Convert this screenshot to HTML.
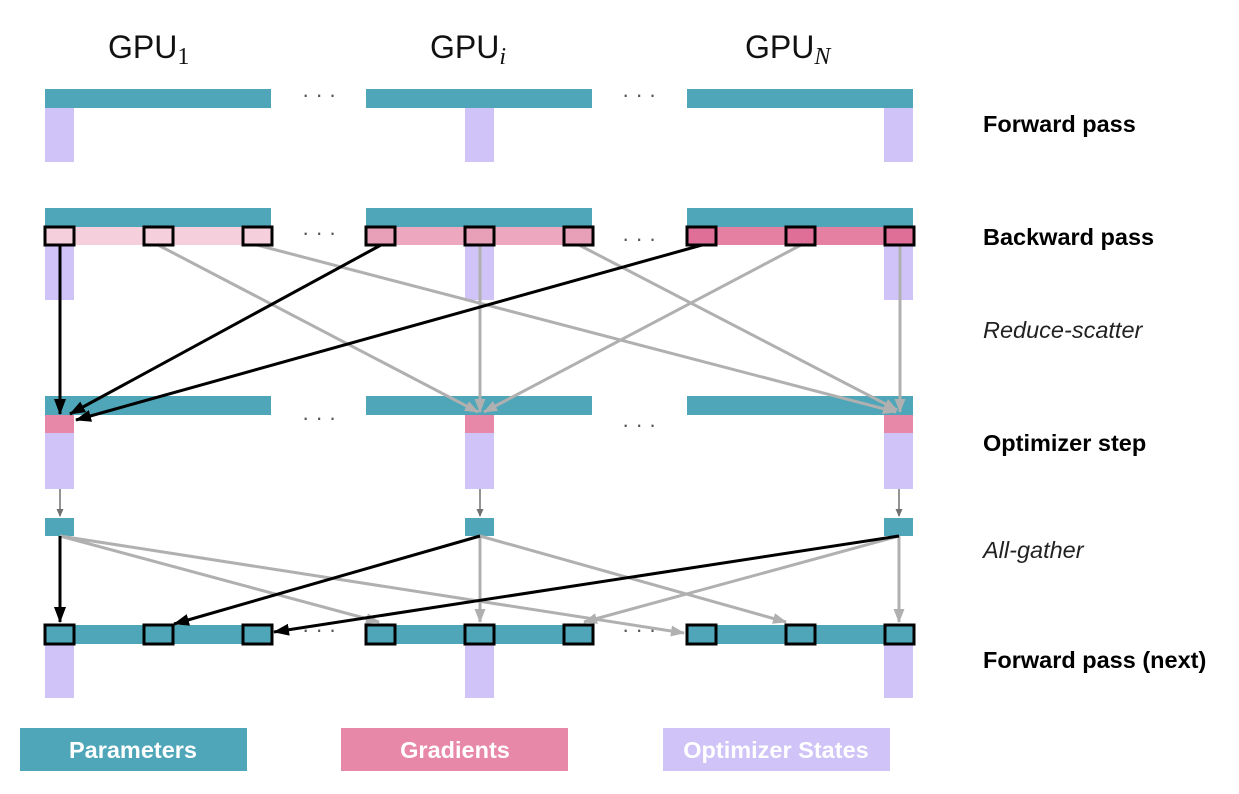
<!DOCTYPE html>
<html><head><meta charset="utf-8"><style>
body{margin:0;background:#fff;width:1239px;height:789px;overflow:hidden}
</style></head><body>
<svg width="1239" height="789" xmlns="http://www.w3.org/2000/svg" font-family="Liberation Sans, sans-serif">
<defs>
<marker id="ab" markerWidth="16" markerHeight="12" refX="15" refY="6" orient="auto" markerUnits="userSpaceOnUse" viewBox="0 0 16 12"><path d="M0,0 L16,6 L0,12z" fill="#000"/></marker>
<marker id="ag" markerWidth="14" markerHeight="11" refX="13" refY="5.5" orient="auto" markerUnits="userSpaceOnUse" viewBox="0 0 14 11"><path d="M0,0 L14,5.5 L0,11z" fill="#b0b0b0"/></marker>
<marker id="ad" markerWidth="8" markerHeight="7" refX="7" refY="3.5" orient="auto" markerUnits="userSpaceOnUse" viewBox="0 0 8 7"><path d="M0,0 L8,3.5 L0,7z" fill="#707070"/></marker>
</defs>
<g font-size="32" fill="#111" font-weight="300">
<text x="108" y="58">GPU<tspan font-family="Liberation Serif" font-size="24" dy="6">1</tspan></text>
<text x="430" y="58">GPU<tspan font-family="Liberation Serif" font-style="italic" font-size="24" dy="6">i</tspan></text>
<text x="745" y="58">GPU<tspan font-family="Liberation Serif" font-style="italic" font-size="24" dy="6">N</tspan></text>
</g>
<g fill="#555" font-size="22">
<text x="302" y="102">· · ·</text><text x="622" y="102">· · ·</text>
<text x="302" y="240">· · ·</text><text x="622" y="246">· · ·</text>
<text x="302" y="425">· · ·</text><text x="622" y="432">· · ·</text>
<text x="302" y="637">· · ·</text><text x="622" y="637">· · ·</text>
</g>
<g fill="#4ea6b8"><rect x="45" y="89" width="226" height="19"/><rect x="366" y="89" width="226" height="19"/><rect x="687" y="89" width="226" height="19"/></g>
<g fill="#cfc3f7"><rect x="45" y="108" width="29" height="54"/><rect x="465" y="108" width="29" height="54"/><rect x="884" y="108" width="29" height="54"/></g>
<g fill="#4ea6b8"><rect x="45" y="208" width="226" height="19"/><rect x="366" y="208" width="226" height="19"/><rect x="687" y="208" width="226" height="19"/></g>
<rect x="45" y="227" width="226" height="18" fill="#f5d0dc"/>
<rect x="366" y="227" width="226" height="18" fill="#eda8c0"/>
<rect x="687" y="227" width="226" height="18" fill="#e580a3"/>
<g fill="#cfc3f7"><rect x="45" y="245" width="29" height="55"/><rect x="465" y="245" width="29" height="55"/><rect x="884" y="245" width="29" height="55"/></g>
<g fill="#4ea6b8"><rect x="45" y="396" width="226" height="19"/><rect x="366" y="396" width="226" height="19"/><rect x="687" y="396" width="226" height="19"/></g>
<g fill="#e888a8"><rect x="45" y="415" width="29" height="18"/><rect x="465" y="415" width="29" height="18"/><rect x="884" y="415" width="29" height="18"/></g>
<g fill="#cfc3f7"><rect x="45" y="433" width="29" height="56"/><rect x="465" y="433" width="29" height="56"/><rect x="884" y="433" width="29" height="56"/></g>
<g fill="#4ea6b8"><rect x="45" y="518" width="29" height="18"/><rect x="465" y="518" width="29" height="18"/><rect x="884" y="518" width="29" height="18"/></g>
<g stroke="#707070" stroke-width="1.5" marker-end="url(#ad)"><line x1="60" y1="489" x2="60" y2="516"/><line x1="480" y1="489" x2="480" y2="516"/><line x1="899" y1="489" x2="899" y2="516"/></g>
<g fill="#4ea6b8"><rect x="45" y="625" width="226" height="19"/><rect x="366" y="625" width="226" height="19"/><rect x="687" y="625" width="226" height="19"/></g>
<g fill="#cfc3f7"><rect x="45" y="644" width="29" height="54"/><rect x="465" y="644" width="29" height="54"/><rect x="884" y="644" width="29" height="54"/></g>
<g stroke="#b0b0b0" stroke-width="3" marker-end="url(#ag)" fill="none">
<line x1="158" y1="245" x2="478" y2="412"/>
<line x1="257" y1="245" x2="896" y2="412"/>
<line x1="480" y1="245" x2="480" y2="412"/>
<line x1="579" y1="245" x2="897" y2="410"/>
<line x1="801" y1="245" x2="484" y2="412"/>
<line x1="900" y1="245" x2="900" y2="412"/>
</g>
<g stroke="#000" stroke-width="3" marker-end="url(#ab)" fill="none">
<line x1="60" y1="245" x2="60" y2="414"/>
<line x1="381" y1="245" x2="70" y2="414"/>
<line x1="702" y1="245" x2="76" y2="420"/>
</g>
<g stroke="#b0b0b0" stroke-width="3" marker-end="url(#ag)" fill="none">
<line x1="60" y1="536" x2="379" y2="622"/>
<line x1="60" y1="536" x2="684" y2="633"/>
<line x1="480" y1="536" x2="480" y2="622"/>
<line x1="480" y1="536" x2="786" y2="622"/>
<line x1="899" y1="536" x2="584" y2="622"/>
<line x1="899" y1="536" x2="899" y2="622"/>
</g>
<g stroke="#000" stroke-width="3" marker-end="url(#ab)" fill="none">
<line x1="60" y1="536" x2="60" y2="622"/>
<line x1="480" y1="536" x2="174" y2="624"/>
<line x1="899" y1="536" x2="274" y2="632"/>
</g>
<g stroke="#000" stroke-width="3" fill="#f5d0dc"><rect x="45" y="227" width="29" height="18"/><rect x="144" y="227" width="29" height="18"/><rect x="243" y="227" width="29" height="18"/></g>
<g stroke="#000" stroke-width="3" fill="#e8a0b8"><rect x="366" y="227" width="29" height="18"/><rect x="465" y="227" width="29" height="18"/><rect x="564" y="227" width="29" height="18"/></g>
<g stroke="#000" stroke-width="3" fill="#e06f97"><rect x="687" y="227" width="29" height="18"/><rect x="786" y="227" width="29" height="18"/><rect x="885" y="227" width="29" height="18"/></g>
<g stroke="#000" stroke-width="3" fill="#4ea6b8">
<rect x="45" y="625" width="29" height="19"/><rect x="144" y="625" width="29" height="19"/><rect x="243" y="625" width="29" height="19"/>
<rect x="366" y="625" width="29" height="19"/><rect x="465" y="625" width="29" height="19"/><rect x="564" y="625" width="29" height="19"/>
<rect x="687" y="625" width="29" height="19"/><rect x="786" y="625" width="29" height="19"/><rect x="885" y="625" width="29" height="19"/>
</g>
<g font-size="23.5" font-weight="bold" fill="#000">
<text x="983" y="132">Forward pass</text>
<text x="983" y="245">Backward pass</text>
<text x="983" y="451">Optimizer step</text>
<text x="983" y="668">Forward pass (next)</text>
</g>
<g font-size="23.5" font-style="italic" fill="#222">
<text x="983" y="338">Reduce-scatter</text>
<text x="983" y="558">All-gather</text>
</g>
<rect x="20" y="728" width="227" height="43" fill="#4ea6b8"/>
<rect x="341" y="728" width="227" height="43" fill="#e888a8"/>
<rect x="663" y="728" width="227" height="43" fill="#cfc3f7"/>
<g font-size="23.5" font-weight="bold" fill="#fff" text-anchor="middle">
<text x="133" y="758">Parameters</text><text x="455" y="758">Gradients</text><text x="776" y="758">Optimizer States</text>
</g>
</svg>
</body></html>
